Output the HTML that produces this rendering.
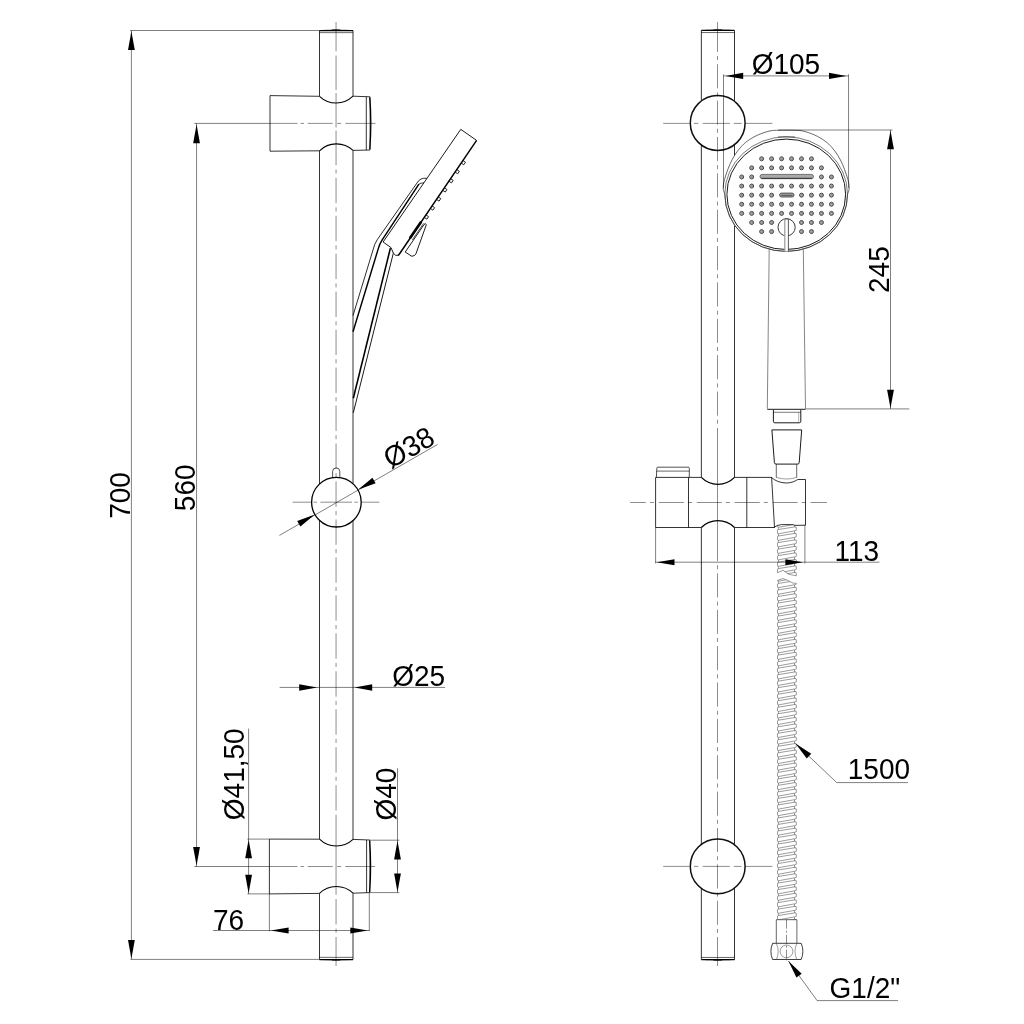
<!DOCTYPE html>
<html lang="en">
<head>
<meta charset="utf-8">
<title>Shower rail set - dimensional drawing</title>
<style>
html,body{margin:0;padding:0;background:#fff;}
body{width:1024px;height:1024px;overflow:hidden;}
svg{display:block;will-change:transform;}
text{font-family:"Liberation Sans",Arial,Helvetica,sans-serif;fill:#000;}
.o{fill:none;stroke:#000;stroke-width:0.8;stroke-linecap:butt;stroke-linejoin:round;}
.d{fill:none;stroke:#000;stroke-width:0.5;}
.c{fill:none;stroke:#000;stroke-width:0.45;stroke-dasharray:25.3 4.4 4.1 4.4;}
.cs{fill:none;stroke:#000;stroke-width:0.45;}
.a{fill:#000;stroke:none;}
.h{fill:#c8c8c8;stroke:#222;stroke-width:0.8;}
.h2{fill:none;stroke:#555;stroke-width:0.5;}
.hs{fill:none;stroke:#4a4a4a;stroke-width:0.55;}
</style>
</head>
<body>
<svg width="1024" height="1024" viewBox="0 0 1024 1024">
<rect x="0" y="0" width="1024" height="1024" fill="#fff"/>
<line class="o" x1="319.50" y1="30.50" x2="353.00" y2="30.50" style="stroke-width:1.25"/>
<line class="o" x1="319.50" y1="32.65" x2="353.00" y2="32.65" style="stroke-width:0.60"/>
<path class="o" d="M323.50,30.30 Q336.05,29.60 349.00,30.30" style="stroke-width:0.52"/>
<path class="o" d="M331.65,29.80 Q336.05,29.10 340.45,29.90" style="stroke-width:0.60"/>
<line class="o" x1="319.50" y1="30.50" x2="319.50" y2="96.30"/>
<line class="o" x1="353.00" y1="30.50" x2="353.00" y2="96.20"/>
<path class="o" d="M319.5,96.3 L270.0,95.6 L270.0,151.2 L319.5,150.8"/>
<path class="o" d="M319.5,96.3 A24.2 24.2 0 0 0 353.0,96.2" style="stroke-width:1.05"/>
<path class="o" d="M319.5,150.8 A24.2 24.2 0 0 1 353.0,150.4" style="stroke-width:1.05"/>
<path class="o" d="M353.0,96.2 L370.0,96.8 M353.0,150.4 L370.0,150"/>
<line class="o" x1="366.30" y1="96.70" x2="366.30" y2="150.10"/>
<path class="o" d="M369.8,97.4 A330 330 0 0 1 369.8,149.4" style="stroke-width:1.3"/>
<line class="o" x1="370.00" y1="96.80" x2="370.00" y2="150.00" style="stroke-width:0.60"/>
<line class="o" x1="319.50" y1="150.80" x2="319.50" y2="484.05"/>
<line class="o" x1="353.00" y1="150.40" x2="353.00" y2="483.78"/>
<circle class="o" cx="336.40" cy="502.20" r="24.80" style="stroke-width:1.3"/>
<path class="o" d="M332.6,478.0 L332.6,471.5 A3.6 3.6 0 0 1 339.8,471.5 L339.8,477.79999999999995" style="stroke-width:0.68"/>
<line class="o" x1="319.50" y1="520.35" x2="319.50" y2="839.10"/>
<line class="o" x1="353.00" y1="520.62" x2="353.00" y2="839.30"/>
<path class="o" d="M319.5,839.2 L269.4,839.1 L269.4,893.9 L319.5,893.4"/>
<path class="o" d="M319.5,839.2 A24.2 24.2 0 0 0 353.0,839.4" style="stroke-width:1.05"/>
<path class="o" d="M319.5,893.4 A24.2 24.2 0 0 1 353.0,893.2" style="stroke-width:1.05"/>
<path class="o" d="M353.0,839.4 L369.8,840 M353.0,893.2 L369.8,892.6"/>
<line class="o" x1="366.60" y1="840.00" x2="366.60" y2="892.70"/>
<path class="o" d="M369.6,840.6 A330 330 0 0 1 369.6,892.0" style="stroke-width:1.3"/>
<line class="o" x1="369.80" y1="840.00" x2="369.80" y2="892.60" style="stroke-width:0.60"/>
<line class="o" x1="319.50" y1="893.40" x2="319.50" y2="959.50"/>
<line class="o" x1="353.00" y1="893.20" x2="353.00" y2="959.50"/>
<line class="o" x1="319.50" y1="959.50" x2="353.00" y2="959.50" style="stroke-width:1.25"/>
<line class="o" x1="319.50" y1="957.35" x2="353.00" y2="957.35" style="stroke-width:0.60"/>
<path class="o" d="M323.50,959.70 Q336.05,960.40 349.00,959.70" style="stroke-width:0.52"/>
<path class="o" d="M331.65,960.20 Q336.05,960.90 340.45,960.10" style="stroke-width:0.60"/>
<path class="cs" d="M336.05,22.00 L336.05,51.35 M336.05,55.55 L336.05,90.00 M336.05,93.00 L336.05,127.50 M336.05,130.60 L336.05,165.23 M336.05,169.43 L336.05,173.53 M336.05,177.79 L336.05,203.19 M336.05,207.39 L336.05,211.49 M336.05,215.75 L336.05,241.15 M336.05,245.35 L336.05,249.45 M336.05,253.71 L336.05,279.11 M336.05,283.31 L336.05,287.41 M336.05,291.67 L336.05,317.07 M336.05,321.27 L336.05,325.37 M336.05,329.63 L336.05,355.03 M336.05,359.23 L336.05,363.33 M336.05,367.59 L336.05,392.99 M336.05,397.19 L336.05,401.29 M336.05,405.55 L336.05,430.95 M336.05,435.15 L336.05,439.25 M336.05,443.51 L336.05,468.91 M336.05,473.11 L336.05,477.21 M336.05,481.47 L336.05,506.87 M336.05,511.07 L336.05,515.17 M336.05,519.43 L336.05,544.83 M336.05,549.03 L336.05,553.13 M336.05,557.39 L336.05,582.79 M336.05,586.99 L336.05,591.09 M336.05,595.35 L336.05,620.75 M336.05,624.95 L336.05,629.05 M336.05,633.31 L336.05,658.71 M336.05,662.91 L336.05,667.01 M336.05,671.27 L336.05,696.67 M336.05,700.87 L336.05,704.97 M336.05,709.23 L336.05,734.63 M336.05,738.83 L336.05,742.93 M336.05,747.19 L336.05,772.59 M336.05,776.79 L336.05,780.89 M336.05,785.15 L336.05,810.55 M336.05,814.75 L336.05,894.77 M336.05,899.03 L336.05,924.43 M336.05,928.63 L336.05,932.73 M336.05,936.99 L336.05,966.00"/>
<path class="cs" d="M270.00,123.40 L297.50,123.40 M300.50,123.40 L304.00,123.40 M307.70,123.40 L332.70,123.40 M337.10,123.40 L341.20,123.40 M345.30,123.40 L375.50,123.40"/>
<line class="d" x1="194.30" y1="123.40" x2="270.00" y2="123.40"/>
<path class="cs" d="M269.40,866.50 L297.50,866.50 M300.50,866.50 L304.00,866.50 M307.70,866.50 L332.70,866.50 M337.10,866.50 L341.20,866.50 M345.30,866.50 L375.00,866.50"/>
<line class="d" x1="194.30" y1="866.50" x2="269.40" y2="866.50"/>
<path class="cs" d="M292.50,502.20 L311.00,502.20 M313.40,502.20 L316.90,502.20 M320.40,502.20 L352.00,502.20 M354.40,502.20 L357.90,502.20 M361.40,502.20 L379.40,502.20"/>
<path class="o" d="M476.6,140.4 L460.76,129.37 L383.1,242.0 L391.0,247.6 L393.35,253.1 Q395.6,256.2 397.6,255.4" style="stroke-width:0.90"/>
<path class="o" d="M476.6,140.4 L399.4,254.0 Q398.6,255.2 397.6,255.4" style="stroke-width:1.45"/>
<path class="o" d="M462.92,160.53 L465.49,162.27 L463.80,164.75 L461.24,163.01" style="stroke-width:0.86"/>
<path class="o" d="M456.80,169.54 L459.36,171.28 L457.68,173.76 L455.11,172.02" style="stroke-width:0.86"/>
<path class="o" d="M450.58,178.69 L453.14,180.43 L451.46,182.92 L448.89,181.17" style="stroke-width:0.86"/>
<path class="o" d="M444.37,187.82 L446.94,189.57 L445.25,192.05 L442.69,190.30" style="stroke-width:0.86"/>
<path class="o" d="M438.21,196.88 L440.78,198.63 L439.09,201.11 L436.53,199.37" style="stroke-width:0.86"/>
<path class="o" d="M432.06,205.95 L434.62,207.69 L432.93,210.17 L430.37,208.43" style="stroke-width:0.86"/>
<path class="o" d="M425.96,214.92 L428.52,216.66 L426.84,219.14 L424.27,217.40" style="stroke-width:0.86"/>
<line class="o" x1="409.90" y1="238.30" x2="421.20" y2="221.80" style="stroke-width:2.6"/>
<line class="o" x1="412.30" y1="239.90" x2="423.60" y2="223.40" style="stroke-width:0.68"/>
<path class="o" d="M424.0,224.6 Q425.6,222.4 426.3,224.8 L415.9,253.9 Q415.2,255.8 411.9,256.3 L405.2,252.1 Z" style="stroke-width:0.90"/>
<path class="o" d="M426.9,178.3 Q420.2,177.3 416.9,183.1 L377.1,239.9 Q374.2,244.4 373.0,250.0 L353.0,315.6" style="stroke-width:0.83"/>
<path class="o" d="M418.9,184.1 L382.2,239.8 Q379.5,243.8 378.3,248.6 L353.0,331.8" style="stroke-width:1.45"/>
<path class="o" d="M418.6,184.4 Q420.8,182.7 424.0,182.9" style="stroke-width:0.75"/>
<path class="o" d="M390.4,248.1 L353.3,398.2" style="stroke-width:1.55"/>
<path class="o" d="M393.35,253.1 L353.3,412.8" style="stroke-width:0.90"/>
<line class="d" x1="130.00" y1="30.50" x2="319.50" y2="30.50"/>
<line class="d" x1="130.50" y1="959.40" x2="319.50" y2="959.40"/>
<line class="d" x1="131.40" y1="30.50" x2="131.40" y2="959.40"/>
<polygon class="a" points="131.40,31.30 134.80,50.10 128.00,50.10"/>
<polygon class="a" points="131.40,958.70 128.00,940.10 134.80,940.10"/>
<text x="0" y="0" font-size="28" text-anchor="middle" transform="translate(130.10 495.50) rotate(-90) scale(1 1.04)">700</text>
<line class="d" x1="196.55" y1="123.40" x2="196.55" y2="866.50"/>
<polygon class="a" points="196.55,124.50 199.95,143.30 193.15,143.30"/>
<polygon class="a" points="196.55,865.60 193.15,847.00 199.95,847.00"/>
<text x="0" y="0" font-size="28" text-anchor="middle" transform="translate(195.30 487.80) rotate(-90) scale(1 1.04)">560</text>
<line class="d" x1="279.40" y1="535.40" x2="437.60" y2="444.40"/>
<polygon class="a" points="357.90,489.84 372.43,477.79 375.62,483.34"/>
<polygon class="a" points="314.90,514.56 300.37,526.61 297.18,521.06"/>
<text x="0" y="0" font-size="28" text-anchor="middle" transform="translate(413.70 456.10) rotate(-29.9) scale(1 1.04)">Ø38</text>
<line class="d" x1="279.60" y1="687.40" x2="445.10" y2="687.40"/>
<polygon class="a" points="317.20,687.40 299.20,690.65 299.20,684.15"/>
<polygon class="a" points="354.60,687.40 372.20,684.15 372.20,690.65"/>
<text x="0" y="0" font-size="28" text-anchor="start" transform="translate(392.20 685.90) scale(1 1.04)">Ø25</text>
<line class="d" x1="248.60" y1="728.60" x2="248.60" y2="893.90"/>
<line class="d" x1="247.40" y1="839.10" x2="269.40" y2="839.10"/>
<line class="d" x1="247.40" y1="893.90" x2="269.40" y2="893.90"/>
<polygon class="a" points="248.60,839.70 252.00,858.30 245.20,858.30"/>
<polygon class="a" points="248.60,893.30 245.20,874.70 252.00,874.70"/>
<text x="0" y="0" font-size="28" text-anchor="start" transform="translate(244.00 820.20) rotate(-90) scale(1 1.04)">Ø41,50</text>
<line class="d" x1="397.50" y1="768.20" x2="397.50" y2="892.60"/>
<line class="d" x1="369.80" y1="840.20" x2="399.30" y2="840.20"/>
<line class="d" x1="369.80" y1="892.60" x2="399.30" y2="892.60"/>
<polygon class="a" points="397.50,840.80 400.90,859.40 394.10,859.40"/>
<polygon class="a" points="397.50,892.00 394.10,873.40 400.90,873.40"/>
<text x="0" y="0" font-size="28" text-anchor="start" transform="translate(395.90 820.50) rotate(-90) scale(1 1.04)">Ø40</text>
<line class="d" x1="212.90" y1="930.50" x2="369.30" y2="930.50"/>
<line class="d" x1="269.40" y1="893.90" x2="269.40" y2="931.30"/>
<line class="d" x1="369.30" y1="892.60" x2="369.30" y2="931.30"/>
<polygon class="a" points="270.80,930.50 288.60,927.50 288.60,933.50"/>
<polygon class="a" points="367.70,930.50 350.30,933.50 350.30,927.50"/>
<text x="0" y="0" font-size="28" text-anchor="start" transform="translate(213.00 929.70) scale(1 1.04)">76</text>
<line class="o" x1="701.35" y1="30.40" x2="734.50" y2="30.40" style="stroke-width:1.25"/>
<line class="o" x1="701.35" y1="32.55" x2="734.50" y2="32.55" style="stroke-width:0.60"/>
<path class="o" d="M705.35,30.20 Q717.70,29.50 730.50,30.20" style="stroke-width:0.52"/>
<path class="o" d="M713.30,29.70 Q717.70,29.00 722.10,29.80" style="stroke-width:0.60"/>
<line class="o" x1="701.35" y1="30.40" x2="701.35" y2="101.23"/>
<line class="o" x1="734.50" y1="30.40" x2="734.50" y2="101.23"/>
<circle class="o" cx="717.70" cy="123.00" r="27.40" style="stroke-width:1.5;stroke:#111"/>
<circle class="o" cx="717.70" cy="866.40" r="27.40" style="stroke-width:1.5;stroke:#111"/>
<path d="M724.80,194.10 C724.55,193.25 723.48,190.85 723.30,189.00 C723.12,187.15 723.27,185.33 723.70,183.00 C724.13,180.67 724.88,178.08 725.90,175.00 C726.92,171.92 728.34,167.78 729.80,164.50 C731.26,161.22 732.85,158.17 734.65,155.30 C736.45,152.43 738.49,149.67 740.60,147.30 C742.71,144.93 744.43,143.15 747.30,141.10 C750.17,139.05 754.02,136.70 757.80,135.00 C761.58,133.30 766.55,131.68 770.00,130.90 C773.45,130.12 775.80,130.42 778.50,130.30 C781.20,130.18 783.63,130.20 786.20,130.20 C788.77,130.20 791.20,130.18 793.90,130.30 C796.60,130.42 798.95,130.12 802.40,130.90 C805.85,131.68 810.82,133.30 814.60,135.00 C818.38,136.70 822.23,139.05 825.10,141.10 C827.97,143.15 829.69,144.93 831.80,147.30 C833.91,149.67 835.95,152.43 837.75,155.30 C839.55,158.17 841.14,161.22 842.60,164.50 C844.06,167.78 845.48,171.92 846.50,175.00 C847.52,178.08 848.27,180.67 848.70,183.00 C849.13,185.33 849.28,187.15 849.10,189.00 C848.92,190.85 847.85,193.25 847.60,194.10 A61.35 57.3 0 0 1 724.8,194.1 Z" fill="#fff" stroke="#2a2a2a" stroke-width="0.7"/>
<ellipse cx="786.15" cy="194.1" rx="61.35" ry="57.3" fill="none" stroke="#333" stroke-width="0.65"/>
<ellipse cx="786.25" cy="194.3" rx="59.35" ry="55.2" fill="none" stroke="#1a1a1a" stroke-width="1.0"/>
<circle class="h" cx="761.64" cy="158.75" r="2.0"/>
<circle class="h2" cx="761.84" cy="158.75" r="0.9"/>
<circle class="h" cx="771.61" cy="158.75" r="2.0"/>
<circle class="h2" cx="771.81" cy="158.75" r="0.9"/>
<circle class="h" cx="781.58" cy="158.75" r="2.0"/>
<circle class="h2" cx="781.78" cy="158.75" r="0.9"/>
<circle class="h" cx="791.55" cy="158.75" r="2.0"/>
<circle class="h2" cx="791.75" cy="158.75" r="0.9"/>
<circle class="h" cx="801.52" cy="158.75" r="2.0"/>
<circle class="h2" cx="801.72" cy="158.75" r="0.9"/>
<circle class="h" cx="811.49" cy="158.75" r="2.0"/>
<circle class="h2" cx="811.69" cy="158.75" r="0.9"/>
<circle class="h" cx="751.67" cy="167.85" r="2.0"/>
<circle class="h2" cx="751.87" cy="167.85" r="0.9"/>
<circle class="h" cx="761.64" cy="167.85" r="2.0"/>
<circle class="h2" cx="761.84" cy="167.85" r="0.9"/>
<circle class="h" cx="771.61" cy="167.85" r="2.0"/>
<circle class="h2" cx="771.81" cy="167.85" r="0.9"/>
<circle class="h" cx="781.58" cy="167.85" r="2.0"/>
<circle class="h2" cx="781.78" cy="167.85" r="0.9"/>
<circle class="h" cx="791.55" cy="167.85" r="2.0"/>
<circle class="h2" cx="791.75" cy="167.85" r="0.9"/>
<circle class="h" cx="801.52" cy="167.85" r="2.0"/>
<circle class="h2" cx="801.72" cy="167.85" r="0.9"/>
<circle class="h" cx="811.49" cy="167.85" r="2.0"/>
<circle class="h2" cx="811.69" cy="167.85" r="0.9"/>
<circle class="h" cx="821.46" cy="167.85" r="2.0"/>
<circle class="h2" cx="821.66" cy="167.85" r="0.9"/>
<circle class="h" cx="741.70" cy="176.96" r="2.0"/>
<circle class="h2" cx="741.90" cy="176.96" r="0.9"/>
<circle class="h" cx="751.67" cy="176.96" r="2.0"/>
<circle class="h2" cx="751.87" cy="176.96" r="0.9"/>
<circle class="h" cx="821.46" cy="176.96" r="2.0"/>
<circle class="h2" cx="821.66" cy="176.96" r="0.9"/>
<circle class="h" cx="831.43" cy="176.96" r="2.0"/>
<circle class="h2" cx="831.63" cy="176.96" r="0.9"/>
<circle class="h" cx="741.70" cy="186.06" r="2.0"/>
<circle class="h2" cx="741.90" cy="186.06" r="0.9"/>
<circle class="h" cx="751.67" cy="186.06" r="2.0"/>
<circle class="h2" cx="751.87" cy="186.06" r="0.9"/>
<circle class="h" cx="761.64" cy="186.06" r="2.0"/>
<circle class="h2" cx="761.84" cy="186.06" r="0.9"/>
<circle class="h" cx="771.61" cy="186.06" r="2.0"/>
<circle class="h2" cx="771.81" cy="186.06" r="0.9"/>
<circle class="h" cx="781.58" cy="186.06" r="2.0"/>
<circle class="h2" cx="781.78" cy="186.06" r="0.9"/>
<circle class="h" cx="791.55" cy="186.06" r="2.0"/>
<circle class="h2" cx="791.75" cy="186.06" r="0.9"/>
<circle class="h" cx="801.52" cy="186.06" r="2.0"/>
<circle class="h2" cx="801.72" cy="186.06" r="0.9"/>
<circle class="h" cx="811.49" cy="186.06" r="2.0"/>
<circle class="h2" cx="811.69" cy="186.06" r="0.9"/>
<circle class="h" cx="821.46" cy="186.06" r="2.0"/>
<circle class="h2" cx="821.66" cy="186.06" r="0.9"/>
<circle class="h" cx="831.43" cy="186.06" r="2.0"/>
<circle class="h2" cx="831.63" cy="186.06" r="0.9"/>
<circle class="h" cx="741.70" cy="195.17" r="2.0"/>
<circle class="h2" cx="741.90" cy="195.17" r="0.9"/>
<circle class="h" cx="751.67" cy="195.17" r="2.0"/>
<circle class="h2" cx="751.87" cy="195.17" r="0.9"/>
<circle class="h" cx="761.64" cy="195.17" r="2.0"/>
<circle class="h2" cx="761.84" cy="195.17" r="0.9"/>
<circle class="h" cx="771.61" cy="195.17" r="2.0"/>
<circle class="h2" cx="771.81" cy="195.17" r="0.9"/>
<circle class="h" cx="801.52" cy="195.17" r="2.0"/>
<circle class="h2" cx="801.72" cy="195.17" r="0.9"/>
<circle class="h" cx="811.49" cy="195.17" r="2.0"/>
<circle class="h2" cx="811.69" cy="195.17" r="0.9"/>
<circle class="h" cx="821.46" cy="195.17" r="2.0"/>
<circle class="h2" cx="821.66" cy="195.17" r="0.9"/>
<circle class="h" cx="831.43" cy="195.17" r="2.0"/>
<circle class="h2" cx="831.63" cy="195.17" r="0.9"/>
<circle class="h" cx="741.70" cy="204.28" r="2.0"/>
<circle class="h2" cx="741.90" cy="204.28" r="0.9"/>
<circle class="h" cx="751.67" cy="204.28" r="2.0"/>
<circle class="h2" cx="751.87" cy="204.28" r="0.9"/>
<circle class="h" cx="761.64" cy="204.28" r="2.0"/>
<circle class="h2" cx="761.84" cy="204.28" r="0.9"/>
<circle class="h" cx="771.61" cy="204.28" r="2.0"/>
<circle class="h2" cx="771.81" cy="204.28" r="0.9"/>
<circle class="h" cx="781.58" cy="204.28" r="2.0"/>
<circle class="h2" cx="781.78" cy="204.28" r="0.9"/>
<circle class="h" cx="791.55" cy="204.28" r="2.0"/>
<circle class="h2" cx="791.75" cy="204.28" r="0.9"/>
<circle class="h" cx="801.52" cy="204.28" r="2.0"/>
<circle class="h2" cx="801.72" cy="204.28" r="0.9"/>
<circle class="h" cx="811.49" cy="204.28" r="2.0"/>
<circle class="h2" cx="811.69" cy="204.28" r="0.9"/>
<circle class="h" cx="821.46" cy="204.28" r="2.0"/>
<circle class="h2" cx="821.66" cy="204.28" r="0.9"/>
<circle class="h" cx="831.43" cy="204.28" r="2.0"/>
<circle class="h2" cx="831.63" cy="204.28" r="0.9"/>
<circle class="h" cx="741.70" cy="213.38" r="2.0"/>
<circle class="h2" cx="741.90" cy="213.38" r="0.9"/>
<circle class="h" cx="751.67" cy="213.38" r="2.0"/>
<circle class="h2" cx="751.87" cy="213.38" r="0.9"/>
<circle class="h" cx="761.64" cy="213.38" r="2.0"/>
<circle class="h2" cx="761.84" cy="213.38" r="0.9"/>
<circle class="h" cx="771.61" cy="213.38" r="2.0"/>
<circle class="h2" cx="771.81" cy="213.38" r="0.9"/>
<circle class="h" cx="781.58" cy="213.38" r="2.0"/>
<circle class="h2" cx="781.78" cy="213.38" r="0.9"/>
<circle class="h" cx="791.55" cy="213.38" r="2.0"/>
<circle class="h2" cx="791.75" cy="213.38" r="0.9"/>
<circle class="h" cx="801.52" cy="213.38" r="2.0"/>
<circle class="h2" cx="801.72" cy="213.38" r="0.9"/>
<circle class="h" cx="811.49" cy="213.38" r="2.0"/>
<circle class="h2" cx="811.69" cy="213.38" r="0.9"/>
<circle class="h" cx="821.46" cy="213.38" r="2.0"/>
<circle class="h2" cx="821.66" cy="213.38" r="0.9"/>
<circle class="h" cx="831.43" cy="213.38" r="2.0"/>
<circle class="h2" cx="831.63" cy="213.38" r="0.9"/>
<circle class="h" cx="751.67" cy="222.49" r="2.0"/>
<circle class="h2" cx="751.87" cy="222.49" r="0.9"/>
<circle class="h" cx="761.64" cy="222.49" r="2.0"/>
<circle class="h2" cx="761.84" cy="222.49" r="0.9"/>
<circle class="h" cx="771.61" cy="222.49" r="2.0"/>
<circle class="h2" cx="771.81" cy="222.49" r="0.9"/>
<circle class="h" cx="801.52" cy="222.49" r="2.0"/>
<circle class="h2" cx="801.72" cy="222.49" r="0.9"/>
<circle class="h" cx="811.49" cy="222.49" r="2.0"/>
<circle class="h2" cx="811.69" cy="222.49" r="0.9"/>
<circle class="h" cx="821.46" cy="222.49" r="2.0"/>
<circle class="h2" cx="821.66" cy="222.49" r="0.9"/>
<circle class="h" cx="761.64" cy="231.59" r="2.0"/>
<circle class="h2" cx="761.84" cy="231.59" r="0.9"/>
<circle class="h" cx="771.61" cy="231.59" r="2.0"/>
<circle class="h2" cx="771.81" cy="231.59" r="0.9"/>
<circle class="h" cx="801.52" cy="231.59" r="2.0"/>
<circle class="h2" cx="801.72" cy="231.59" r="0.9"/>
<circle class="h" cx="811.49" cy="231.59" r="2.0"/>
<circle class="h2" cx="811.69" cy="231.59" r="0.9"/>
<rect x="760.0" y="174.4" width="53.5" height="4.3" rx="2.1" fill="#aaa" stroke="#444" stroke-width="0.7"/>
<path d="M761.5,178.3 L812.0,178.3" stroke="#333" stroke-width="1.0" fill="none"/>
<rect x="779.6" y="193.1" width="14.4" height="3.9" rx="1.9" fill="#aaa" stroke="#333" stroke-width="0.8"/>
<path d="M781.0,195.3 L792.6,195.3" stroke="#444" stroke-width="0.9" fill="none"/>
<circle class="o" cx="786.60" cy="227.30" r="8.60" style="stroke-width:0.90;stroke:#222"/>
<rect x="784.8" y="219.0" width="3.6" height="32.4" fill="#fff" stroke="none"/>
<path d="M784.8,219.0 L784.8,251.6" stroke="#999" stroke-width="1.2" fill="none"/>
<path d="M788.4,219.0 L788.4,251.6" stroke="#333" stroke-width="0.8" fill="none"/>
<path d="M784.8,219.0 L788.4,219.0" stroke="#333" stroke-width="0.8" fill="none"/>
<line class="o" x1="701.35" y1="144.77" x2="701.35" y2="477.40"/>
<line class="o" x1="734.50" y1="144.77" x2="734.50" y2="155.50"/>
<line class="o" x1="734.50" y1="225.80" x2="734.50" y2="477.40"/>
<path class="o" d="M769.2,249.2 L767.3,408.75 M805.5,408.75 L803.3,249.2" style="stroke-width:0.60;stroke:#333"/>
<path class="o" d="M773.4,409.9 L773.4,421.3 Q773.4,422.8 774.9,422.8 L799.3,422.8 Q800.8,422.8 800.8,421.3 L800.8,409.9" style="stroke-width:0.90"/>
<line class="o" x1="773.40" y1="412.30" x2="800.80" y2="412.30" style="stroke-width:0.52"/>
<line class="o" x1="767.30" y1="409.30" x2="805.50" y2="409.30" style="stroke-width:0.90"/>
<path class="o" d="M771.9,429.9 L801.7,429.9 L799.2,462.6 Q799.1,464.1 797.6,464.1 L776.0,464.1 Q774.6,464.1 774.4,462.6 Z" style="stroke-width:0.90"/>
<path class="o" d="M776.3,464.1 L776.3,477.6 M796.7,464.1 L796.7,477.6" style="stroke-width:0.68;stroke:#222"/>
<path class="o" d="M776.3,477.4 Q786.5,480.6 796.7,477.4" style="stroke-width:0.52;stroke:#444"/>
<line class="o" x1="798.70" y1="412.30" x2="798.70" y2="422.00" style="stroke-width:0.45;stroke:#555"/>
<path class="o" d="M701.35,477.4 L655.6,477.4 L655.6,527.5 L701.35,527.5"/>
<path class="o" d="M656.4,477.4 L656.8,468.2 Q656.9,467.2 658,467.2 L688.4,467.2 Q689.3,467.2 689.3,468.2 L689.3,477.4" style="stroke-width:0.68"/>
<line class="o" x1="656.60" y1="471.10" x2="689.30" y2="471.10" style="stroke-width:0.60"/>
<line class="o" x1="688.50" y1="477.40" x2="688.50" y2="527.50"/>
<path class="o" d="M701.35,477.4 A23.4 23.4 0 0 0 734.5,477.4" style="stroke-width:1.3"/>
<path class="o" d="M701.35,527.5 A23.4 23.4 0 0 1 734.5,527.5" style="stroke-width:1.3"/>
<path class="o" d="M734.5,477.4 L771.6,477.4 L774.5,527.5 L734.5,527.5"/>
<line class="o" x1="746.80" y1="477.40" x2="746.80" y2="527.50"/>
<path class="o" d="M771.4,477.4 C775.0,480.6 780.0,483.0 786.4,483.0 C791.0,483.0 795.0,481.4 797.8,479.5 L805.5,479.5 L805.5,525.2 L794.8,525.4 Q793.6,524.6 792.0,524.6 L781.5,524.6 Q778.0,524.8 773.7,527.4"/>
<line class="o" x1="701.35" y1="527.50" x2="701.35" y2="844.63"/>
<line class="o" x1="734.50" y1="527.50" x2="734.50" y2="844.63"/>
<line class="o" x1="701.35" y1="888.17" x2="701.35" y2="959.60"/>
<line class="o" x1="734.50" y1="888.17" x2="734.50" y2="959.60"/>
<line class="o" x1="701.35" y1="959.60" x2="734.50" y2="959.60" style="stroke-width:1.25"/>
<line class="o" x1="701.35" y1="957.45" x2="734.50" y2="957.45" style="stroke-width:0.60"/>
<path class="o" d="M705.35,959.80 Q717.70,960.50 730.50,959.80" style="stroke-width:0.52"/>
<path class="o" d="M713.30,960.30 Q717.70,961.00 722.10,960.20" style="stroke-width:0.60"/>
<path class="cs" d="M717.50,22.00 L717.50,51.93 M717.50,56.03 L717.50,60.10 M717.50,64.20 L717.50,88.30 M717.50,92.40 L717.50,96.47 M717.50,100.57 L717.50,124.67 M717.50,128.77 L717.50,132.84 M717.50,136.94 L717.50,161.04 M717.50,165.14 L717.50,169.21 M717.50,173.31 L717.50,197.41 M717.50,201.51 L717.50,205.58 M717.50,209.68 L717.50,233.78 M717.50,237.88 L717.50,241.95 M717.50,246.05 L717.50,270.15 M717.50,274.25 L717.50,278.32 M717.50,282.42 L717.50,306.52 M717.50,310.62 L717.50,314.69 M717.50,318.79 L717.50,342.89 M717.50,346.99 L717.50,351.06 M717.50,355.16 L717.50,379.26 M717.50,383.36 L717.50,387.43 M717.50,391.53 L717.50,415.63 M717.50,419.73 L717.50,423.80 M717.50,427.90 L717.50,561.11 M717.50,565.21 L717.50,569.28 M717.50,573.38 L717.50,597.48 M717.50,601.58 L717.50,605.65 M717.50,609.75 L717.50,633.85 M717.50,637.95 L717.50,642.02 M717.50,646.12 L717.50,670.22 M717.50,674.32 L717.50,678.39 M717.50,682.49 L717.50,706.59 M717.50,710.69 L717.50,714.76 M717.50,718.86 L717.50,742.96 M717.50,747.06 L717.50,751.13 M717.50,755.23 L717.50,779.33 M717.50,783.43 L717.50,787.50 M717.50,791.60 L717.50,815.70 M717.50,819.80 L717.50,823.87 M717.50,827.97 L717.50,852.07 M717.50,856.17 L717.50,860.24 M717.50,864.34 L717.50,888.44 M717.50,892.54 L717.50,896.61 M717.50,900.71 L717.50,924.81 M717.50,928.91 L717.50,932.98 M717.50,937.08 L717.50,966.00"/>
<path class="cs" d="M663.20,123.40 L689.50,123.40 M694.00,123.40 L698.30,123.40 M702.70,123.40 L729.80,123.40 M733.75,123.40 L741.60,123.40 M745.50,123.40 L772.40,123.40"/>
<path class="cs" d="M663.20,866.40 L689.50,866.40 M694.00,866.40 L698.30,866.40 M702.70,866.40 L729.80,866.40 M733.75,866.40 L741.60,866.40 M745.50,866.40 L772.40,866.40"/>
<path class="cs" d="M630.10,502.50 L645.85,502.50 M649.95,502.50 L654.05,502.50 M658.80,502.50 L683.80,502.50 M687.90,502.50 L692.00,502.50 M696.75,502.50 L721.75,502.50 M725.85,502.50 L729.95,502.50 M734.70,502.50 L759.70,502.50 M763.80,502.50 L767.90,502.50 M772.65,502.50 L797.65,502.50 M801.75,502.50 L805.85,502.50 M810.60,502.50 L827.00,502.50"/>
<clipPath id="hcTop"><path d="M770,524.6 L805,524.6 L805,575.9 L796.4,575.8 L788.6,574.25 L783.1,570.3 L777.4,572.7 L770,572.7 Z"/></clipPath>
<g clip-path="url(#hcTop)">
<clipPath id="hc1"><rect x="775.5" y="524.60" width="22.799999999999955" height="52.40"/></clipPath>
<g clip-path="url(#hc1)">
<path class="hs" d="M778.30,507.76 L794.30,504.86 M778.30,510.01 L795.30,507.26 M778.30,514.28 L794.30,511.38 M778.30,516.53 L795.30,513.78 M778.30,520.79 L794.30,517.89 M778.30,523.04 L795.30,520.29 M778.30,527.30 L794.30,524.40 M778.30,529.55 L795.30,526.80 M778.30,533.81 L794.30,530.91 M778.30,536.06 L795.30,533.31 M778.30,540.32 L794.30,537.42 M778.30,542.57 L795.30,539.82 M778.30,546.84 L794.30,543.94 M778.30,549.09 L795.30,546.34 M778.30,553.35 L794.30,550.45 M778.30,555.60 L795.30,552.85 M778.30,559.86 L794.30,556.96 M778.30,562.11 L795.30,559.36 M778.30,566.37 L794.30,563.47 M778.30,568.62 L795.30,565.87 M778.30,572.88 L794.30,569.98 M778.30,575.13 L795.30,572.38 M778.30,579.40 L794.30,576.50 M778.30,581.65 L795.30,578.90 M778.30,585.91 L794.30,583.01 M778.30,588.16 L795.30,585.41 M778.30,592.42 L794.30,589.52 M778.30,594.67 L795.30,591.92"/>
<path class="hs" d="M778.40,507.76 L778.40,510.01 L777.50,510.56 L777.50,513.76 L778.40,514.28 L778.40,514.28 L778.40,516.53 L777.50,517.08 L777.50,520.28 L778.40,520.79 L778.40,520.79 L778.40,523.04 L777.50,523.59 L777.50,526.79 L778.40,527.30 L778.40,527.30 L778.40,529.55 L777.50,530.10 L777.50,533.30 L778.40,533.81 L778.40,533.81 L778.40,536.06 L777.50,536.61 L777.50,539.81 L778.40,540.32 L778.40,540.32 L778.40,542.57 L777.50,543.12 L777.50,546.32 L778.40,546.84 L778.40,546.84 L778.40,549.09 L777.50,549.64 L777.50,552.84 L778.40,553.35 L778.40,553.35 L778.40,555.60 L777.50,556.15 L777.50,559.35 L778.40,559.86 L778.40,559.86 L778.40,562.11 L777.50,562.66 L777.50,565.86 L778.40,566.37 L778.40,566.37 L778.40,568.62 L777.50,569.17 L777.50,572.37 L778.40,572.88 L778.40,572.88 L778.40,575.13 L777.50,575.68 L777.50,578.88 L778.40,579.40 L778.40,579.40 L778.40,581.65 L777.50,582.20 L777.50,585.40 L778.40,585.91 L778.40,585.91 L778.40,588.16 L777.50,588.71 L777.50,591.91 L778.40,592.42 L778.40,592.42 L778.40,594.67 L777.50,595.22 L777.50,598.42 L778.40,598.93"/>
<path class="hs" d="M794.50,504.86 L794.50,507.06 L796.30,507.76 L796.30,510.76 L794.50,511.37 L794.50,511.38 L794.50,513.58 L796.30,514.28 L796.30,517.28 L794.50,517.89 L794.50,517.89 L794.50,520.09 L796.30,520.79 L796.30,523.79 L794.50,524.40 L794.50,524.40 L794.50,526.60 L796.30,527.30 L796.30,530.30 L794.50,530.91 L794.50,530.91 L794.50,533.11 L796.30,533.81 L796.30,536.81 L794.50,537.42 L794.50,537.42 L794.50,539.62 L796.30,540.32 L796.30,543.32 L794.50,543.93 L794.50,543.94 L794.50,546.14 L796.30,546.84 L796.30,549.84 L794.50,550.45 L794.50,550.45 L794.50,552.65 L796.30,553.35 L796.30,556.35 L794.50,556.96 L794.50,556.96 L794.50,559.16 L796.30,559.86 L796.30,562.86 L794.50,563.47 L794.50,563.47 L794.50,565.67 L796.30,566.37 L796.30,569.37 L794.50,569.98 L794.50,569.98 L794.50,572.18 L796.30,572.88 L796.30,575.88 L794.50,576.49 L794.50,576.50 L794.50,578.70 L796.30,579.40 L796.30,582.40 L794.50,583.01 L794.50,583.01 L794.50,585.21 L796.30,585.91 L796.30,588.91 L794.50,589.52 L794.50,589.52 L794.50,591.72 L796.30,592.42 L796.30,595.42 L794.50,596.03"/>
</g>
</g>
<path class="hs" d="M777.4,572.7 L783.1,570.3 L788.6,574.25 L796.4,575.8"/>
<clipPath id="hcBot"><path d="M770,580.5 L777.4,580.5 L783.1,578.5 L787.8,580.5 L793.25,583.2 L796.4,583.2 L805,583.2 L805,921 L770,921 Z"/></clipPath>
<g clip-path="url(#hcBot)">
<clipPath id="hc2"><rect x="775.5" y="578.00" width="22.799999999999955" height="341.50"/></clipPath>
<g clip-path="url(#hc2)">
<path class="hs" d="M778.30,561.67 L794.30,558.77 M778.30,563.92 L795.30,561.17 M778.30,568.18 L794.30,565.28 M778.30,570.43 L795.30,567.68 M778.30,574.69 L794.30,571.79 M778.30,576.94 L795.30,574.19 M778.30,581.20 L794.30,578.30 M778.30,583.45 L795.30,580.70 M778.30,587.71 L794.30,584.81 M778.30,589.96 L795.30,587.21 M778.30,594.23 L794.30,591.33 M778.30,596.48 L795.30,593.73 M778.30,600.74 L794.30,597.84 M778.30,602.99 L795.30,600.24 M778.30,607.25 L794.30,604.35 M778.30,609.50 L795.30,606.75 M778.30,613.76 L794.30,610.86 M778.30,616.01 L795.30,613.26 M778.30,620.27 L794.30,617.37 M778.30,622.52 L795.30,619.77 M778.30,626.79 L794.30,623.89 M778.30,629.04 L795.30,626.29 M778.30,633.30 L794.30,630.40 M778.30,635.55 L795.30,632.80 M778.30,639.81 L794.30,636.91 M778.30,642.06 L795.30,639.31 M778.30,646.32 L794.30,643.42 M778.30,648.57 L795.30,645.82 M778.30,652.83 L794.30,649.93 M778.30,655.08 L795.30,652.33 M778.30,659.35 L794.30,656.45 M778.30,661.60 L795.30,658.85 M778.30,665.86 L794.30,662.96 M778.30,668.11 L795.30,665.36 M778.30,672.37 L794.30,669.47 M778.30,674.62 L795.30,671.87 M778.30,678.88 L794.30,675.98 M778.30,681.13 L795.30,678.38 M778.30,685.39 L794.30,682.49 M778.30,687.64 L795.30,684.89 M778.30,691.91 L794.30,689.01 M778.30,694.16 L795.30,691.41 M778.30,698.42 L794.30,695.52 M778.30,700.67 L795.30,697.92 M778.30,704.93 L794.30,702.03 M778.30,707.18 L795.30,704.43 M778.30,711.44 L794.30,708.54 M778.30,713.69 L795.30,710.94 M778.30,717.95 L794.30,715.05 M778.30,720.20 L795.30,717.45 M778.30,724.47 L794.30,721.57 M778.30,726.72 L795.30,723.97 M778.30,730.98 L794.30,728.08 M778.30,733.23 L795.30,730.48 M778.30,737.49 L794.30,734.59 M778.30,739.74 L795.30,736.99 M778.30,744.00 L794.30,741.10 M778.30,746.25 L795.30,743.50 M778.30,750.51 L794.30,747.61 M778.30,752.76 L795.30,750.01 M778.30,757.03 L794.30,754.13 M778.30,759.28 L795.30,756.53 M778.30,763.54 L794.30,760.64 M778.30,765.79 L795.30,763.04 M778.30,770.05 L794.30,767.15 M778.30,772.30 L795.30,769.55 M778.30,776.56 L794.30,773.66 M778.30,778.81 L795.30,776.06 M778.30,783.07 L794.30,780.17 M778.30,785.32 L795.30,782.57 M778.30,789.59 L794.30,786.69 M778.30,791.84 L795.30,789.09 M778.30,796.10 L794.30,793.20 M778.30,798.35 L795.30,795.60 M778.30,802.61 L794.30,799.71 M778.30,804.86 L795.30,802.11 M778.30,809.12 L794.30,806.22 M778.30,811.37 L795.30,808.62 M778.30,815.63 L794.30,812.73 M778.30,817.88 L795.30,815.13 M778.30,822.15 L794.30,819.25 M778.30,824.40 L795.30,821.65 M778.30,828.66 L794.30,825.76 M778.30,830.91 L795.30,828.16 M778.30,835.17 L794.30,832.27 M778.30,837.42 L795.30,834.67 M778.30,841.68 L794.30,838.78 M778.30,843.93 L795.30,841.18 M778.30,848.19 L794.30,845.29 M778.30,850.44 L795.30,847.69 M778.30,854.71 L794.30,851.81 M778.30,856.96 L795.30,854.21 M778.30,861.22 L794.30,858.32 M778.30,863.47 L795.30,860.72 M778.30,867.73 L794.30,864.83 M778.30,869.98 L795.30,867.23 M778.30,874.24 L794.30,871.34 M778.30,876.49 L795.30,873.74 M778.30,880.75 L794.30,877.85 M778.30,883.00 L795.30,880.25 M778.30,887.27 L794.30,884.37 M778.30,889.52 L795.30,886.77 M778.30,893.78 L794.30,890.88 M778.30,896.03 L795.30,893.28 M778.30,900.29 L794.30,897.39 M778.30,902.54 L795.30,899.79 M778.30,906.80 L794.30,903.90 M778.30,909.05 L795.30,906.30 M778.30,913.31 L794.30,910.41 M778.30,915.56 L795.30,912.81 M778.30,919.83 L794.30,916.93 M778.30,922.08 L795.30,919.33 M778.30,926.34 L794.30,923.44 M778.30,928.59 L795.30,925.84 M778.30,932.85 L794.30,929.95 M778.30,935.10 L795.30,932.35"/>
<path class="hs" d="M778.40,561.67 L778.40,563.92 L777.50,564.47 L777.50,567.67 L778.40,568.18 L778.40,568.18 L778.40,570.43 L777.50,570.98 L777.50,574.18 L778.40,574.69 L778.40,574.69 L778.40,576.94 L777.50,577.49 L777.50,580.69 L778.40,581.20 L778.40,581.20 L778.40,583.45 L777.50,584.00 L777.50,587.20 L778.40,587.71 L778.40,587.71 L778.40,589.96 L777.50,590.51 L777.50,593.71 L778.40,594.23 L778.40,594.23 L778.40,596.48 L777.50,597.03 L777.50,600.23 L778.40,600.74 L778.40,600.74 L778.40,602.99 L777.50,603.54 L777.50,606.74 L778.40,607.25 L778.40,607.25 L778.40,609.50 L777.50,610.05 L777.50,613.25 L778.40,613.76 L778.40,613.76 L778.40,616.01 L777.50,616.56 L777.50,619.76 L778.40,620.27 L778.40,620.27 L778.40,622.52 L777.50,623.07 L777.50,626.27 L778.40,626.79 L778.40,626.79 L778.40,629.04 L777.50,629.59 L777.50,632.79 L778.40,633.30 L778.40,633.30 L778.40,635.55 L777.50,636.10 L777.50,639.30 L778.40,639.81 L778.40,639.81 L778.40,642.06 L777.50,642.61 L777.50,645.81 L778.40,646.32 L778.40,646.32 L778.40,648.57 L777.50,649.12 L777.50,652.32 L778.40,652.83 L778.40,652.83 L778.40,655.08 L777.50,655.63 L777.50,658.83 L778.40,659.35 L778.40,659.35 L778.40,661.60 L777.50,662.15 L777.50,665.35 L778.40,665.86 L778.40,665.86 L778.40,668.11 L777.50,668.66 L777.50,671.86 L778.40,672.37 L778.40,672.37 L778.40,674.62 L777.50,675.17 L777.50,678.37 L778.40,678.88 L778.40,678.88 L778.40,681.13 L777.50,681.68 L777.50,684.88 L778.40,685.39 L778.40,685.39 L778.40,687.64 L777.50,688.19 L777.50,691.39 L778.40,691.91 L778.40,691.91 L778.40,694.16 L777.50,694.71 L777.50,697.91 L778.40,698.42 L778.40,698.42 L778.40,700.67 L777.50,701.22 L777.50,704.42 L778.40,704.93 L778.40,704.93 L778.40,707.18 L777.50,707.73 L777.50,710.93 L778.40,711.44 L778.40,711.44 L778.40,713.69 L777.50,714.24 L777.50,717.44 L778.40,717.95 L778.40,717.95 L778.40,720.20 L777.50,720.75 L777.50,723.95 L778.40,724.47 L778.40,724.47 L778.40,726.72 L777.50,727.27 L777.50,730.47 L778.40,730.98 L778.40,730.98 L778.40,733.23 L777.50,733.78 L777.50,736.98 L778.40,737.49 L778.40,737.49 L778.40,739.74 L777.50,740.29 L777.50,743.49 L778.40,744.00 L778.40,744.00 L778.40,746.25 L777.50,746.80 L777.50,750.00 L778.40,750.51 L778.40,750.51 L778.40,752.76 L777.50,753.31 L777.50,756.51 L778.40,757.03 L778.40,757.03 L778.40,759.28 L777.50,759.83 L777.50,763.03 L778.40,763.54 L778.40,763.54 L778.40,765.79 L777.50,766.34 L777.50,769.54 L778.40,770.05 L778.40,770.05 L778.40,772.30 L777.50,772.85 L777.50,776.05 L778.40,776.56 L778.40,776.56 L778.40,778.81 L777.50,779.36 L777.50,782.56 L778.40,783.07 L778.40,783.07 L778.40,785.32 L777.50,785.87 L777.50,789.07 L778.40,789.59 L778.40,789.59 L778.40,791.84 L777.50,792.39 L777.50,795.59 L778.40,796.10 L778.40,796.10 L778.40,798.35 L777.50,798.90 L777.50,802.10 L778.40,802.61 L778.40,802.61 L778.40,804.86 L777.50,805.41 L777.50,808.61 L778.40,809.12 L778.40,809.12 L778.40,811.37 L777.50,811.92 L777.50,815.12 L778.40,815.63 L778.40,815.63 L778.40,817.88 L777.50,818.43 L777.50,821.63 L778.40,822.15 L778.40,822.15 L778.40,824.40 L777.50,824.95 L777.50,828.15 L778.40,828.66 L778.40,828.66 L778.40,830.91 L777.50,831.46 L777.50,834.66 L778.40,835.17 L778.40,835.17 L778.40,837.42 L777.50,837.97 L777.50,841.17 L778.40,841.68 L778.40,841.68 L778.40,843.93 L777.50,844.48 L777.50,847.68 L778.40,848.19 L778.40,848.19 L778.40,850.44 L777.50,850.99 L777.50,854.19 L778.40,854.71 L778.40,854.71 L778.40,856.96 L777.50,857.51 L777.50,860.71 L778.40,861.22 L778.40,861.22 L778.40,863.47 L777.50,864.02 L777.50,867.22 L778.40,867.73 L778.40,867.73 L778.40,869.98 L777.50,870.53 L777.50,873.73 L778.40,874.24 L778.40,874.24 L778.40,876.49 L777.50,877.04 L777.50,880.24 L778.40,880.75 L778.40,880.75 L778.40,883.00 L777.50,883.55 L777.50,886.75 L778.40,887.27 L778.40,887.27 L778.40,889.52 L777.50,890.07 L777.50,893.27 L778.40,893.78 L778.40,893.78 L778.40,896.03 L777.50,896.58 L777.50,899.78 L778.40,900.29 L778.40,900.29 L778.40,902.54 L777.50,903.09 L777.50,906.29 L778.40,906.80 L778.40,906.80 L778.40,909.05 L777.50,909.60 L777.50,912.80 L778.40,913.31 L778.40,913.31 L778.40,915.56 L777.50,916.11 L777.50,919.31 L778.40,919.83 L778.40,919.83 L778.40,922.08 L777.50,922.63 L777.50,925.83 L778.40,926.34 L778.40,926.34 L778.40,928.59 L777.50,929.14 L777.50,932.34 L778.40,932.85 L778.40,932.85 L778.40,935.10 L777.50,935.65 L777.50,938.85 L778.40,939.36"/>
<path class="hs" d="M794.50,558.77 L794.50,560.97 L796.30,561.67 L796.30,564.67 L794.50,565.28 L794.50,565.28 L794.50,567.48 L796.30,568.18 L796.30,571.18 L794.50,571.79 L794.50,571.79 L794.50,573.99 L796.30,574.69 L796.30,577.69 L794.50,578.30 L794.50,578.30 L794.50,580.50 L796.30,581.20 L796.30,584.20 L794.50,584.81 L794.50,584.81 L794.50,587.01 L796.30,587.71 L796.30,590.71 L794.50,591.32 L794.50,591.33 L794.50,593.53 L796.30,594.23 L796.30,597.23 L794.50,597.84 L794.50,597.84 L794.50,600.04 L796.30,600.74 L796.30,603.74 L794.50,604.35 L794.50,604.35 L794.50,606.55 L796.30,607.25 L796.30,610.25 L794.50,610.86 L794.50,610.86 L794.50,613.06 L796.30,613.76 L796.30,616.76 L794.50,617.37 L794.50,617.37 L794.50,619.57 L796.30,620.27 L796.30,623.27 L794.50,623.88 L794.50,623.89 L794.50,626.09 L796.30,626.79 L796.30,629.79 L794.50,630.40 L794.50,630.40 L794.50,632.60 L796.30,633.30 L796.30,636.30 L794.50,636.91 L794.50,636.91 L794.50,639.11 L796.30,639.81 L796.30,642.81 L794.50,643.42 L794.50,643.42 L794.50,645.62 L796.30,646.32 L796.30,649.32 L794.50,649.93 L794.50,649.93 L794.50,652.13 L796.30,652.83 L796.30,655.83 L794.50,656.44 L794.50,656.45 L794.50,658.65 L796.30,659.35 L796.30,662.35 L794.50,662.96 L794.50,662.96 L794.50,665.16 L796.30,665.86 L796.30,668.86 L794.50,669.47 L794.50,669.47 L794.50,671.67 L796.30,672.37 L796.30,675.37 L794.50,675.98 L794.50,675.98 L794.50,678.18 L796.30,678.88 L796.30,681.88 L794.50,682.49 L794.50,682.49 L794.50,684.69 L796.30,685.39 L796.30,688.39 L794.50,689.00 L794.50,689.01 L794.50,691.21 L796.30,691.91 L796.30,694.91 L794.50,695.52 L794.50,695.52 L794.50,697.72 L796.30,698.42 L796.30,701.42 L794.50,702.03 L794.50,702.03 L794.50,704.23 L796.30,704.93 L796.30,707.93 L794.50,708.54 L794.50,708.54 L794.50,710.74 L796.30,711.44 L796.30,714.44 L794.50,715.05 L794.50,715.05 L794.50,717.25 L796.30,717.95 L796.30,720.95 L794.50,721.56 L794.50,721.57 L794.50,723.77 L796.30,724.47 L796.30,727.47 L794.50,728.08 L794.50,728.08 L794.50,730.28 L796.30,730.98 L796.30,733.98 L794.50,734.59 L794.50,734.59 L794.50,736.79 L796.30,737.49 L796.30,740.49 L794.50,741.10 L794.50,741.10 L794.50,743.30 L796.30,744.00 L796.30,747.00 L794.50,747.61 L794.50,747.61 L794.50,749.81 L796.30,750.51 L796.30,753.51 L794.50,754.12 L794.50,754.13 L794.50,756.33 L796.30,757.03 L796.30,760.03 L794.50,760.64 L794.50,760.64 L794.50,762.84 L796.30,763.54 L796.30,766.54 L794.50,767.15 L794.50,767.15 L794.50,769.35 L796.30,770.05 L796.30,773.05 L794.50,773.66 L794.50,773.66 L794.50,775.86 L796.30,776.56 L796.30,779.56 L794.50,780.17 L794.50,780.17 L794.50,782.37 L796.30,783.07 L796.30,786.07 L794.50,786.68 L794.50,786.69 L794.50,788.89 L796.30,789.59 L796.30,792.59 L794.50,793.20 L794.50,793.20 L794.50,795.40 L796.30,796.10 L796.30,799.10 L794.50,799.71 L794.50,799.71 L794.50,801.91 L796.30,802.61 L796.30,805.61 L794.50,806.22 L794.50,806.22 L794.50,808.42 L796.30,809.12 L796.30,812.12 L794.50,812.73 L794.50,812.73 L794.50,814.93 L796.30,815.63 L796.30,818.63 L794.50,819.24 L794.50,819.25 L794.50,821.45 L796.30,822.15 L796.30,825.15 L794.50,825.76 L794.50,825.76 L794.50,827.96 L796.30,828.66 L796.30,831.66 L794.50,832.27 L794.50,832.27 L794.50,834.47 L796.30,835.17 L796.30,838.17 L794.50,838.78 L794.50,838.78 L794.50,840.98 L796.30,841.68 L796.30,844.68 L794.50,845.29 L794.50,845.29 L794.50,847.49 L796.30,848.19 L796.30,851.19 L794.50,851.80 L794.50,851.81 L794.50,854.01 L796.30,854.71 L796.30,857.71 L794.50,858.32 L794.50,858.32 L794.50,860.52 L796.30,861.22 L796.30,864.22 L794.50,864.83 L794.50,864.83 L794.50,867.03 L796.30,867.73 L796.30,870.73 L794.50,871.34 L794.50,871.34 L794.50,873.54 L796.30,874.24 L796.30,877.24 L794.50,877.85 L794.50,877.85 L794.50,880.05 L796.30,880.75 L796.30,883.75 L794.50,884.36 L794.50,884.37 L794.50,886.57 L796.30,887.27 L796.30,890.27 L794.50,890.88 L794.50,890.88 L794.50,893.08 L796.30,893.78 L796.30,896.78 L794.50,897.39 L794.50,897.39 L794.50,899.59 L796.30,900.29 L796.30,903.29 L794.50,903.90 L794.50,903.90 L794.50,906.10 L796.30,906.80 L796.30,909.80 L794.50,910.41 L794.50,910.41 L794.50,912.61 L796.30,913.31 L796.30,916.31 L794.50,916.92 L794.50,916.93 L794.50,919.13 L796.30,919.83 L796.30,922.83 L794.50,923.44 L794.50,923.44 L794.50,925.64 L796.30,926.34 L796.30,929.34 L794.50,929.95 L794.50,929.95 L794.50,932.15 L796.30,932.85 L796.30,935.85 L794.50,936.46"/>
</g>
</g>
<path class="hs" d="M777.4,580.5 L783.1,578.5 L787.8,580.5 L793.25,583.2 L796.4,583.2"/>
<path class="o" d="M776.3,919.7 L776.3,943.3 M796.9,919.7 L796.9,943.3" style="stroke-width:0.60"/>
<line class="o" x1="776.30" y1="919.70" x2="796.90" y2="919.70" style="stroke-width:0.60"/>
<path class="o" d="M772.6,943.3 L801.2,943.3 Q804.6,951.4 801.2,959.5 L772.6,959.5 Q769.2,951.4 772.6,943.3 Z" style="stroke-width:0.75"/>
<circle class="o" cx="786.50" cy="951.40" r="6.40" style="stroke-width:0.52;stroke:#444"/>
<path class="o" d="M776.6,944 Q779.8,951.4 776.6,959 M796.6,944 Q793.4,951.4 796.6,959" style="stroke-width:0.52;stroke:#444"/>
<line class="c" x1="786.50" y1="919.70" x2="786.50" y2="961.00" style="stroke-dasharray:9 2 2 2"/>
<line class="d" x1="723.50" y1="75.90" x2="848.55" y2="75.90"/>
<line class="d" x1="723.50" y1="74.30" x2="723.50" y2="188.00"/>
<line class="d" x1="848.55" y1="74.30" x2="848.55" y2="188.00"/>
<polygon class="a" points="725.50,75.90 743.20,72.80 743.20,79.00"/>
<polygon class="a" points="846.30,75.90 829.00,79.00 829.00,72.80"/>
<text x="0" y="0" font-size="28" text-anchor="start" transform="translate(751.70 74.30) scale(1 1.04)">Ø105</text>
<line class="d" x1="778.00" y1="130.00" x2="892.50" y2="130.00"/>
<line class="d" x1="778.00" y1="136.80" x2="795.00" y2="136.80"/>
<line class="d" x1="805.50" y1="408.90" x2="909.30" y2="408.90"/>
<line class="d" x1="890.50" y1="130.00" x2="890.50" y2="408.90"/>
<polygon class="a" points="890.50,130.60 893.90,149.20 887.10,149.20"/>
<polygon class="a" points="890.50,408.30 887.10,389.70 893.90,389.70"/>
<text x="0" y="0" font-size="28" text-anchor="middle" transform="translate(889.20 269.60) rotate(-90) scale(1 1.04)">245</text>
<line class="d" x1="655.60" y1="562.20" x2="879.40" y2="562.20"/>
<line class="d" x1="655.60" y1="527.50" x2="655.60" y2="563.40"/>
<line class="d" x1="804.90" y1="524.90" x2="804.90" y2="563.40"/>
<polygon class="a" points="656.70,562.30 674.50,559.30 674.50,565.30"/>
<polygon class="a" points="803.00,562.30 785.40,565.30 785.40,559.30"/>
<text x="0" y="0" font-size="28" text-anchor="start" transform="translate(834.40 560.80) scale(1 1.04)">113</text>
<line class="d" x1="795.60" y1="743.50" x2="836.70" y2="782.60"/>
<line class="d" x1="836.70" y1="782.60" x2="908.00" y2="782.60"/>
<polygon class="a" points="795.50,743.40 811.22,753.87 806.73,758.58"/>
<text x="0" y="0" font-size="28" text-anchor="start" transform="translate(847.80 779.30) scale(1 1.04)">1500</text>
<line class="d" x1="788.40" y1="960.90" x2="817.10" y2="1000.60"/>
<line class="d" x1="817.10" y1="1000.60" x2="898.00" y2="1000.60"/>
<polygon class="a" points="788.40,960.90 801.70,973.75 796.43,977.55"/>
<text x="0" y="0" font-size="28" text-anchor="start" transform="translate(829.60 997.50) scale(1 1.04)">G1/2&quot;</text>
</svg>
</body>
</html>
